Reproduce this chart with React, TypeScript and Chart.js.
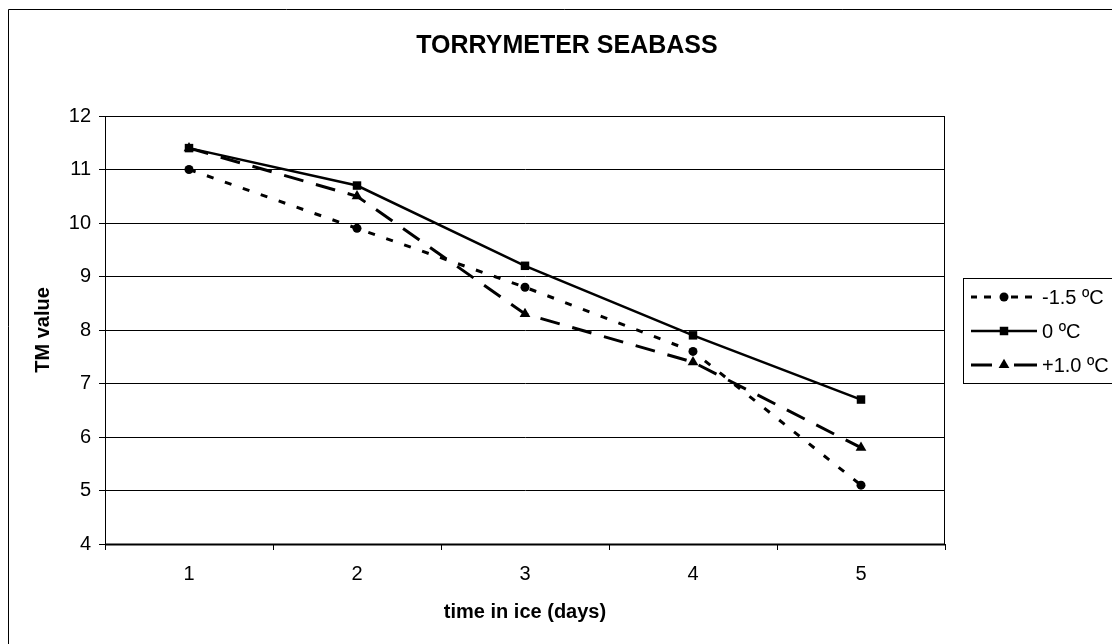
import React, { useEffect, useRef } from "react";
import { Chart, registerables } from "chart.js";

Chart.register(...registerables);

const chartTitle = "TORRYMETER SEABASS";
const xTitle = "time in ice (days)";
const yTitle = "TM value";
const categories = ["1", "2", "3", "4", "5"];
const seriesNames = ["-1.5 ºC", "0 ºC", "+1.0 ºC"];
const seriesMinus15 = [11.0, 9.9, 8.8, 7.6, 5.1];
const seriesZero = [11.4, 10.7, 9.2, 7.9, 6.7];
const seriesPlus10 = [11.4, 10.5, 8.3, 7.4, 5.8];
const yMin = 4;
const yMax = 12;
const yStep = 1;

const FONT = "'Liberation Sans', Arial, sans-serif";

const styles = [
  { dash: [7, 12], width: 3, point: "circle", radius: 4.5, legendSegs: [[-33, -27], [-20, -13], [7, 14], [21, 28]] },
  { dash: [] as number[], width: 2.5, point: "rect", radius: 6, legendSegs: [[-33, 33]] },
  { dash: [20, 13], width: 3, point: "triangle", radius: 6.2, legendSegs: [[-33, -12], [10, 33]] },
];

function drawMarker(ctx: CanvasRenderingContext2D, style: string, x: number, y: number, r: number) {
  ctx.beginPath();
  if (style === "circle") {
    ctx.arc(x, y, r, 0, Math.PI * 2);
  } else if (style === "rect") {
    const s = Math.SQRT1_2 * r;
    ctx.rect(x - s, y - s, 2 * s, 2 * s);
  } else if (style === "triangle") {
    const a = Math.PI / 2;
    ctx.moveTo(x + Math.cos(-a) * r, y + Math.sin(-a) * r);
    ctx.lineTo(x + Math.cos(-a + (2 * Math.PI) / 3) * r, y + Math.sin(-a + (2 * Math.PI) / 3) * r);
    ctx.lineTo(x + Math.cos(-a + (4 * Math.PI) / 3) * r, y + Math.sin(-a + (4 * Math.PI) / 3) * r);
    ctx.closePath();
  }
  ctx.fill();
}

const framePlugin = {
  id: "framePlugin",
  beforeDraw(chart: any) {
    const ctx = chart.ctx as CanvasRenderingContext2D;
    ctx.save();
    ctx.fillStyle = "#ffffff";
    ctx.fillRect(0, 0, chart.width, chart.height);
    ctx.strokeStyle = "#000";
    ctx.lineWidth = 1;
    ctx.beginPath();
    ctx.moveTo(0.5, chart.height);
    ctx.lineTo(0.5, 1.5);
    ctx.lineTo(chart.width, 1.5);
    ctx.stroke();
    ctx.fillStyle = "#000";
    ctx.font = `bold 25px ${FONT}`;
    ctx.textAlign = "center";
    ctx.textBaseline = "middle";
    ctx.fillText(chartTitle, 559, 38);
    ctx.restore();
  },
  afterDraw(chart: any) {
    const ctx = chart.ctx as CanvasRenderingContext2D;
    const a = chart.chartArea;
    ctx.save();
    ctx.strokeStyle = "#000";
    ctx.lineWidth = 1;
    ctx.strokeRect(Math.round(a.left) + 0.5, Math.round(a.top) + 0.5, Math.round(a.right - a.left) - 1, Math.round(a.bottom - a.top));
    ctx.lineWidth = 2;
    ctx.beginPath();
    ctx.moveTo(a.left, Math.round(a.bottom) + 0.5);
    ctx.lineTo(a.right, Math.round(a.bottom) + 0.5);
    ctx.stroke();
    // legend
    ctx.lineWidth = 1;
    const lx = 955;
    const ly = 270;
    const lw = 151;
    const lh = 105;
    ctx.fillStyle = "#fff";
    ctx.fillRect(lx, ly, lw, lh);
    ctx.strokeRect(lx + 0.5, ly + 0.5, lw, lh);
    const rows = [289, 323, 357];
    const mx = 996;
    chart.data.datasets.forEach((ds: any, i: number) => {
      const st = styles[i];
      const y = rows[i];
      ctx.save();
      ctx.strokeStyle = "#000";
      ctx.lineWidth = st.width;
      ctx.beginPath();
      st.legendSegs.forEach(([s, e]) => {
        ctx.moveTo(mx + s, y);
        ctx.lineTo(mx + e, y);
      });
      ctx.stroke();
      ctx.fillStyle = "#000";
      drawMarker(ctx, st.point, mx, y, st.radius);
      ctx.restore();
      ctx.fillStyle = "#000";
      ctx.font = `20px ${FONT}`;
      ctx.textAlign = "left";
      ctx.textBaseline = "middle";
      ctx.fillText(ds.label, 1034, y + 1);
    });
    ctx.restore();
  },
};

export default function App() {
  const ref = useRef<HTMLCanvasElement | null>(null);
  useEffect(() => {
    if (!ref.current) return;
    const seriesValues = [seriesMinus15, seriesZero, seriesPlus10];
    const chart = new Chart(ref.current, {
      type: "line",
      data: {
        labels: categories,
        datasets: seriesValues.map((vals, i) => ({
          label: seriesNames[i],
          data: vals,
          borderColor: "#000",
          backgroundColor: "#000",
          borderWidth: styles[i].width,
          borderDash: styles[i].dash,
          pointStyle: styles[i].point as any,
          pointRadius: styles[i].radius,
          pointBorderWidth: 0,
          pointBackgroundColor: "#000",
          pointBorderColor: "#000",
          tension: 0,
          fill: false,
        })),
      },
      options: {
        animation: false,
        responsive: false,
        devicePixelRatio: 1,
        layout: { padding: { left: 0, top: 108, right: 175, bottom: 0 } },
        plugins: {
          legend: { display: false },
          title: { display: false },
          tooltip: { enabled: false },
        },
        scales: {
          x: {
            type: "category",
            offset: true,
            afterFit: (s: any) => {
              s.height = 100;
            },
            grid: {
              offset: true,
              drawOnChartArea: false,
              drawTicks: true,
              tickLength: 6,
              color: "#000",
              lineWidth: 1,
            },
            border: { display: true, color: "#000", width: 1 },
            ticks: { color: "#000", font: { family: FONT, size: 20 }, padding: 12 },
            title: {
              display: true,
              text: xTitle,
              color: "#000",
              font: { family: FONT, size: 20, weight: "bold" },
              padding: { top: 0, bottom: 20 },
            },
          },
          y: {
            min: yMin,
            max: yMax,
            afterFit: (s: any) => {
              s.width = 97;
            },
            grid: {
              drawOnChartArea: true,
              drawTicks: true,
              tickLength: 6,
              color: "#000",
              lineWidth: 1,
            },
            border: { display: true, color: "#000", width: 1 },
            ticks: { stepSize: yStep, color: "#000", font: { family: FONT, size: 20 }, padding: 8 },
            title: {
              display: true,
              text: yTitle,
              color: "#000",
              font: { family: FONT, size: 20, weight: "bold" },
              padding: { top: 23, bottom: 0 },
            },
          },
        },
      },
      plugins: [framePlugin],
    });
    return () => chart.destroy();
  }, []);
  return (
    <div style={{ width: 1112, height: 636, overflow: "hidden" }}>
      <canvas ref={ref} width={1112} height={636} style={{ display: "block", width: 1112, height: 636 }} />
    </div>
  );
}
